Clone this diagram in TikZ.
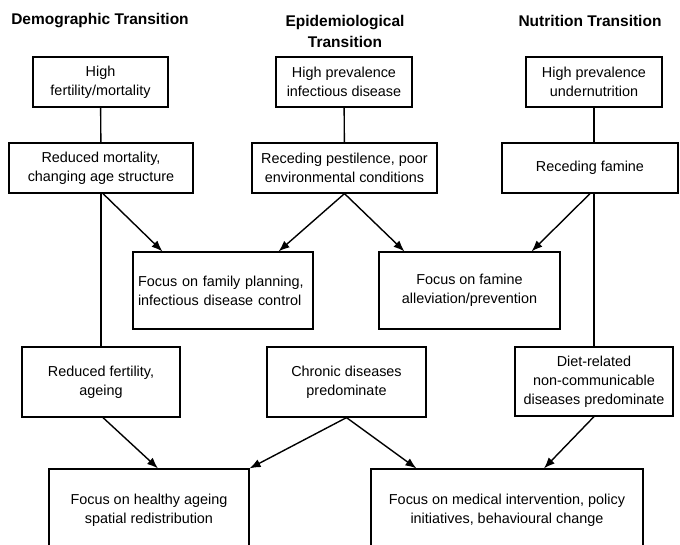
\documentclass[tikz,border=0pt]{standalone}
\usepackage{fontspec}
\setmainfont{Liberation Sans}
\usetikzlibrary{arrows.meta}
\begin{document}
\begin{tikzpicture}[x=1pt, y=-1pt, box/.style={draw, line width=1.2pt, align=center, inner sep=0pt, font=\fontsize{14.4}{19}\selectfont}, title/.style={align=center, font=\fontsize{15.5}{21}\selectfont\bfseries}, arrow/.style={-{Latex[length=11pt,width=8.5pt]}, line width=1.4pt}, link/.style={line width=1.4pt}]
   \useasboundingbox (0,0) rectangle (680,544);
   \clip (0,0) rectangle (680,544);
   \node[title] (TD) at (100,21) {Demographic Transition};
   \node[title] (TE) at (345,31) {Epidemiological\\Transition};
   \node[title] (TN) at (590,21) {Nutrition Transition};
   \node[box, minimum width=135, minimum height=50] (D1) at (100.5,82) {High\\fertility/mortality};
   \node[box, minimum width=184, minimum height=50] (D2) at (101,168) {Reduced mortality,\\changing age structure};
   \node[box, minimum width=136, minimum height=50] (E1) at (344,82) {High prevalence\\infectious disease};
   \node[box, minimum width=185, minimum height=50] (E2) at (344.5,168) {Receding pestilence, poor\\environmental conditions};
   \node[box, minimum width=136, minimum height=50] (N1) at (594,82) {High prevalence\\undernutrition};
   \node[box, minimum width=176, minimum height=50] (N2) at (590,168) {Receding famine};
   \node[box, minimum width=180, minimum height=77, text width=170, align=left] (FP) at (223,290.5) {Focus on family planning,\\infectious disease control};
   \node[box, minimum width=181, minimum height=77] (FF) at (469.5,290.5) {Focus on famine\\alleviation/prevention};
   \node[box, minimum width=158, minimum height=70] (D3) at (101,382) {Reduced fertility,\\ageing};
   \node[box, minimum width=159, minimum height=70] (E3) at (346.5,382) {Chronic diseases\\predominate};
   \node[box, minimum width=158, minimum height=69] (N3) at (594,381.5) {Diet-related\\non-communicable\\diseases predominate};
   \node[box, minimum width=200, minimum height=82] (FH) at (149,510) {Focus on healthy ageing\\spatial redistribution};
   \node[box, minimum width=272, minimum height=82] (FM) at (507,510) {Focus on medical intervention, policy\\initiatives, behavioural change};
   \draw[link] (D1) -- (D2);
   \draw[link] (E1) -- (E2);
   \draw[link] (N1) -- (N1 |- N2.north);
   \draw[link] (D2) -- (D3);
   \draw[link] (N3.north) -- (N3 |- N2.south);
   \draw[arrow] ([xshift=2]D2.south) -- ([xshift=30]FP.north west);
   \draw[arrow] (E2.south) -- ([xshift=-35]FP.north east);
   \draw[arrow] (E2.south) -- ([xshift=26]FF.north west);
   \draw[arrow] (N2.south) -- ([xshift=-29]FF.north east);
   \draw[arrow] ([xshift=2]D3.south) -- ([xshift=9]FH.north);
   \draw[arrow] (E3.south) -- (FH.north east);
   \draw[arrow] (E3.south) -- ([xshift=46]FM.north west);
   \draw[arrow] (N3.south) -- ([xshift=37]FM.north);
\end{tikzpicture}
\end{document}
